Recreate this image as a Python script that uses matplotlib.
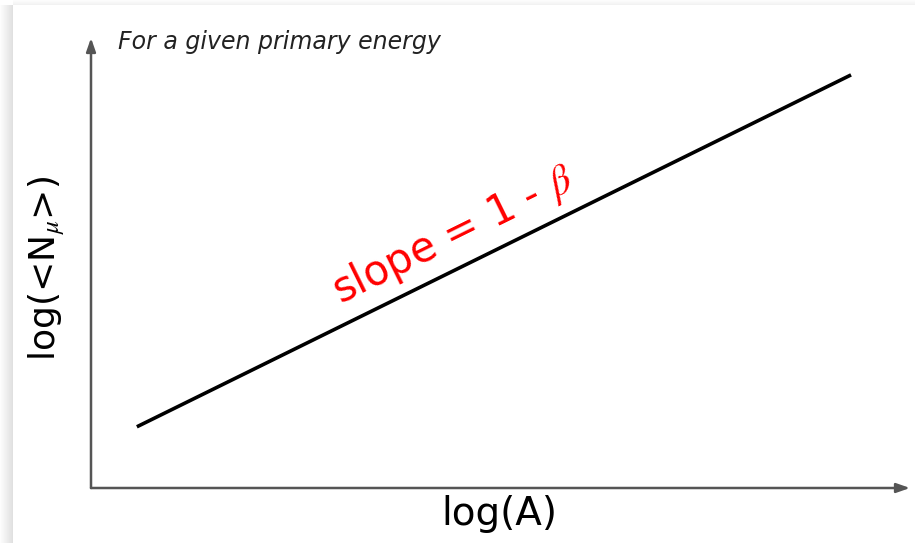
import numpy as np
import matplotlib
matplotlib.use("Agg")
import matplotlib.pyplot as plt
import matplotlib.patheffects as pe
from matplotlib.patches import Rectangle

# muon number vs. mass number, both in log scale (arbitrary units)
log_a = [0.056, 0.928]
log_nmu = [0.136, 0.918]

x_label = "log(A)"
y_label = r"log(<N$_\mu$>)"
note = "For a given primary energy"
slope_label = r"slope = 1 - $\beta$"

plt.rcParams["mathtext.fontset"] = "stix"

W, H = 915, 543
fig = plt.figure(figsize=(W / 100, H / 100), dpi=100)
fig.patch.set_facecolor("white")

# soft slide shadow along the left and top edges
for i in range(13):
    a = 0.12 * (i + 1) / 13
    fig.add_artist(Rectangle((i / W, 0), 1 / W, 1 - 5 / H, transform=fig.transFigure,
                             color="black", alpha=a, lw=0))
for j in range(5):
    a = 0.05 * (j + 1) / 5
    fig.add_artist(Rectangle((13 / W, 1 - (j + 1) / H), 1, 1 / H, transform=fig.transFigure,
                             color="black", alpha=a, lw=0))

x0, x1 = 91, 910
y0, y1 = 488, 38
ax = fig.add_axes([x0 / W, 1 - y0 / H, (x1 - x0) / W, (y0 - y1) / H])
ax.set_xlim(0, 1)
ax.set_ylim(0, 1)
ax.axis("off")

shadow = [pe.SimplePatchShadow(offset=(1.5, -2.5), alpha=0.12, rho=0.9), pe.Normal()]
arrow_kw = dict(arrowstyle="-|>,head_length=0.8,head_width=0.28", color="#555555", lw=1.8,
                shrinkA=0, shrinkB=0)
ax.annotate("", xy=(0, 1), xytext=(0, 0), xycoords="axes fraction", arrowprops=arrow_kw)
ax.annotate("", xy=(1, 0), xytext=(0, 0), xycoords="axes fraction", arrowprops=arrow_kw)

ax.plot(log_a, log_nmu, color="black", lw=2.6, solid_capstyle="butt", path_effects=shadow)

slope = (log_nmu[1] - log_nmu[0]) / (log_a[1] - log_a[0])
angle = np.degrees(np.arctan(slope))
xm = 0.463
ym = log_nmu[0] + slope * (xm - log_a[0])
ax.text(xm - 0.008, ym + 0.014, slope_label, color="red", fontsize=30, family="DejaVu Sans",
        rotation=angle, transform_rotates_text=True, rotation_mode="anchor",
        ha="center", va="bottom")

fig.text(118 / W, 1 - 42 / H, note, fontsize=17, style="italic", color="#222222",
         ha="left", va="center", family="DejaVu Sans")
fig.text(499 / W, 1 - 514 / H, x_label, fontsize=28, ha="center", va="center",
         family="DejaVu Sans")
fig.text(47 / W, 1 - 268 / H, y_label, fontsize=26, rotation=90, ha="center", va="center",
         family="DejaVu Sans")

fig.savefig("out.png", dpi=100)
